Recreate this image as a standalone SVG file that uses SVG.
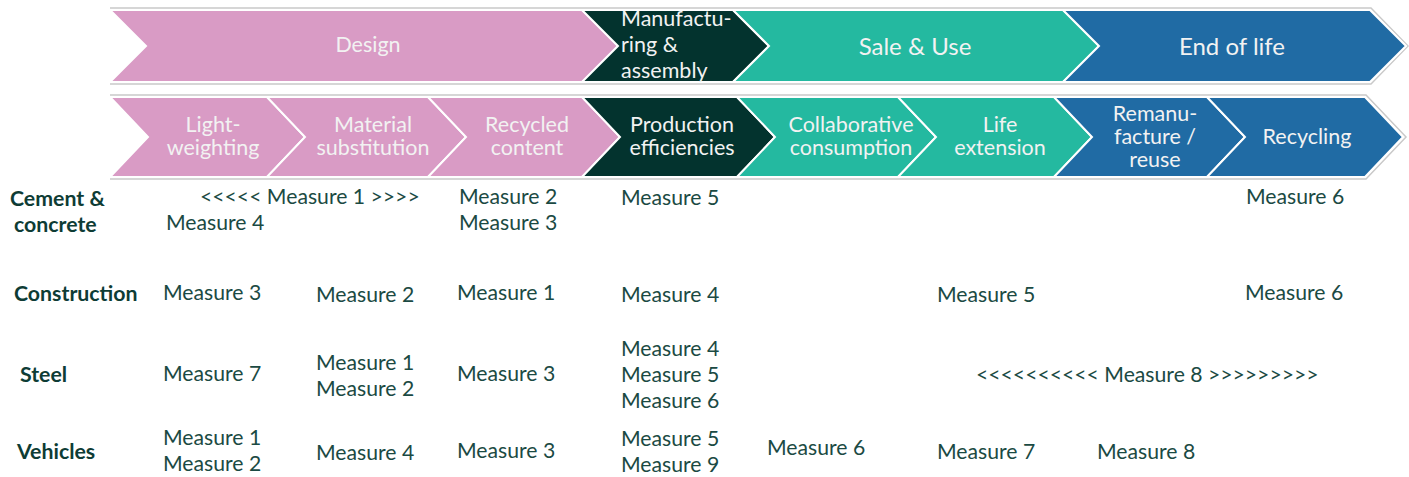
<svg xmlns="http://www.w3.org/2000/svg" width="1409" height="477" viewBox="0 0 1409 477">
  <style>
    .frame { fill: none; stroke: #c9c9c9; stroke-width: 1.5; }
    .chev { stroke: #ffffff; stroke-width: 2; stroke-linejoin: miter; }
    .pink { fill: #d99bc5; }
    .dark { fill: #03332e; }
    .teal { fill: #24b9a0; }
    .blue { fill: #206ba4; }
    .lbl { font-family: Lato, "Liberation Sans", sans-serif; font-size: 21.5px; fill: #f2f2f2; text-anchor: middle; }
    .big { font-size: 24px; }
    .lbl-l { text-anchor: start; }
    .m { font-family: Lato, "Liberation Sans", sans-serif; font-size: 21.2px; fill: #1b4a43; }
    .row { font-family: Lato, "Liberation Sans", sans-serif; font-size: 21.3px; font-weight: bold; fill: #0e3c35; }
  </style>

  <!-- faint outer frame lines of both process rows -->
  <g id="frames">
    <polyline class="frame" points="110,8 1371,8 1408,46 1371,84 110,84"/>
    <polyline class="frame" points="110,95 1366,95 1406,137 1366,179 110,179"/>
  </g>

  <!-- stage row -->
  <g id="stage-design">
    <polygon class="chev pink" points="110,10 582,10 618,46 582,82 110,82 146,46"/>
    <text class="lbl" x="368" y="52">Design</text>
  </g>
  <g id="stage-manufacturing">
    <polygon class="chev dark" points="582,10 733,10 769,46 733,82 582,82 618,46"/>
    <text class="lbl lbl-l" x="621" y="26">Manufactu-</text>
    <text class="lbl lbl-l" x="621" y="52">ring &amp;</text>
    <text class="lbl lbl-l" x="621" y="78">assembly</text>
  </g>
  <g id="stage-sale">
    <polygon class="chev teal" points="733,10 1063,10 1099,46 1063,82 733,82 769,46"/>
    <text class="lbl big" x="915" y="55">Sale &amp; Use</text>
  </g>
  <g id="stage-end">
    <polygon class="chev blue" points="1063,10 1370,10 1406,46 1370,82 1063,82 1099,46"/>
    <text class="lbl big" x="1232" y="55">End of life</text>
  </g>

  <!-- strategy row -->
  <g id="lightweighting">
    <polygon class="chev pink" points="110,97 267,97 305,137 267,177 110,177 148,137"/>
    <text class="lbl" x="213" y="132">Light-</text>
    <text class="lbl" x="213" y="155">weighting</text>
  </g>
  <g id="material-substitution">
    <polygon class="chev pink" points="267,97 428,97 466,137 428,177 267,177 305,137"/>
    <text class="lbl" x="373" y="132">Material</text>
    <text class="lbl" x="373" y="155">substitution</text>
  </g>
  <g id="recycled-content">
    <polygon class="chev pink" points="428,97 582,97 620,137 582,177 428,177 466,137"/>
    <text class="lbl" x="527" y="132">Recycled</text>
    <text class="lbl" x="527" y="155">content</text>
  </g>
  <g id="production-efficiencies">
    <polygon class="chev dark" points="582,97 737,97 775,137 737,177 582,177 620,137"/>
    <text class="lbl" x="682" y="132">Production</text>
    <text class="lbl" x="682" y="155">efficiencies</text>
  </g>
  <g id="collaborative-consumption">
    <polygon class="chev teal" points="737,97 898,97 936,137 898,177 737,177 775,137"/>
    <text class="lbl" x="851" y="132">Collaborative</text>
    <text class="lbl" x="851" y="155">consumption</text>
  </g>
  <g id="life-extension">
    <polygon class="chev teal" points="898,97 1054,97 1092,137 1054,177 898,177 936,137"/>
    <text class="lbl" x="1000" y="132">Life</text>
    <text class="lbl" x="1000" y="155">extension</text>
  </g>
  <g id="remanufacture">
    <polygon class="chev blue" points="1054,97 1207,97 1245,137 1207,177 1054,177 1092,137"/>
    <text class="lbl" x="1155" y="121">Remanu-</text>
    <text class="lbl" x="1155" y="144">facture /</text>
    <text class="lbl" x="1155" y="167">reuse</text>
  </g>
  <g id="recycling">
    <polygon class="chev blue" points="1207,97 1365,97 1403,137 1365,177 1207,177 1245,137"/>
    <text class="lbl" x="1307" y="144">Recycling</text>
  </g>

  <g id="connectors"/>

  <!-- sector rows -->
  <g id="row-cement">
    <text class="row" x="10" y="206">Cement &amp;</text>
    <text class="row" x="14" y="232">concrete</text>
    <text class="m" x="200" y="204">&lt;&lt;&lt;&lt;&lt; Measure 1 &gt;&gt;&gt;&gt;</text>
    <text class="m" x="166" y="230">Measure 4</text>
    <text class="m" x="459" y="204">Measure 2</text>
    <text class="m" x="459" y="230">Measure 3</text>
    <text class="m" x="621" y="205">Measure 5</text>
    <text class="m" x="1246" y="204">Measure 6</text>
  </g>

  <g id="row-construction">
    <text class="row" x="14" y="301">Construction</text>
    <text class="m" x="163" y="300">Measure 3</text>
    <text class="m" x="316" y="302">Measure 2</text>
    <text class="m" x="457" y="300">Measure 1</text>
    <text class="m" x="621" y="302">Measure 4</text>
    <text class="m" x="937" y="302">Measure 5</text>
    <text class="m" x="1245" y="300">Measure 6</text>
  </g>

  <g id="row-steel">
    <text class="row" x="20" y="382">Steel</text>
    <text class="m" x="163" y="381">Measure 7</text>
    <text class="m" x="316" y="370">Measure 1</text>
    <text class="m" x="316" y="396">Measure 2</text>
    <text class="m" x="457" y="381">Measure 3</text>
    <text class="m" x="621" y="356">Measure 4</text>
    <text class="m" x="621" y="382">Measure 5</text>
    <text class="m" x="621" y="408">Measure 6</text>
    <text class="m" x="976" y="382">&lt;&lt;&lt;&lt;&lt;&lt;&lt;&lt;&lt;&lt; Measure 8 &gt;&gt;&gt;&gt;&gt;&gt;&gt;&gt;&gt;</text>
  </g>

  <g id="row-vehicles">
    <text class="row" x="17" y="459">Vehicles</text>
    <text class="m" x="163" y="445">Measure 1</text>
    <text class="m" x="163" y="471">Measure 2</text>
    <text class="m" x="316" y="460">Measure 4</text>
    <text class="m" x="457" y="458">Measure 3</text>
    <text class="m" x="621" y="446">Measure 5</text>
    <text class="m" x="621" y="472">Measure 9</text>
    <text class="m" x="767" y="455">Measure 6</text>
    <text class="m" x="937" y="459">Measure 7</text>
    <text class="m" x="1097" y="459">Measure 8</text>
  </g>
</svg>
